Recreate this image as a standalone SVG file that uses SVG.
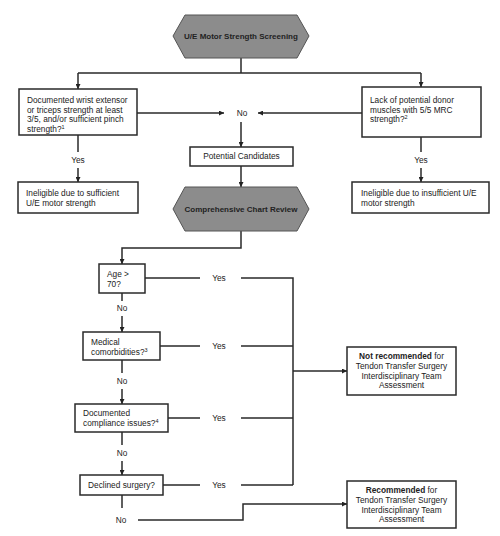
<svg xmlns="http://www.w3.org/2000/svg" width="500" height="536" viewBox="0 0 500 536">
<defs>
<style>
.t{font-family:"Liberation Sans",Arial,sans-serif;font-size:8.3px;fill:#222}
.b{font-weight:bold}
.m{text-anchor:middle}
.box{fill:#fff;stroke:#2a2a2a;stroke-width:1.5}
.hex{fill:#8c8c8c;stroke:#555;stroke-width:1}
.ln{fill:none;stroke:#2a2a2a;stroke-width:1.5}
.sup{font-size:5.5px}
</style>
<marker id="ah" viewBox="0 0 10 10" refX="10" refY="5" markerWidth="5" markerHeight="5" markerUnits="userSpaceOnUse" orient="auto">
<path d="M0,0 L10,5 L0,10 z" fill="#222"/>
</marker>
</defs>
<rect width="500" height="536" fill="#fff"/>

<g id="connectors">
<path class="ln" d="M241,58 V73 M78,73 H421"/>
<path class="ln" d="M78,73 V89" marker-end="url(#ah)"/>
<path class="ln" d="M421,73 V87" marker-end="url(#ah)"/>
<path class="ln" d="M137,113 H224" marker-end="url(#ah)"/>
<path class="ln" d="M362,113 H258" marker-end="url(#ah)"/>
<text class="t m" x="242" y="116">No</text>
<path class="ln" d="M241,122 V147" marker-end="url(#ah)"/>
<path class="ln" d="M78,135 V152"/>
<text class="t m" x="78" y="163">Yes</text>
<path class="ln" d="M78,168 V182" marker-end="url(#ah)"/>
<path class="ln" d="M421,137 V152"/>
<text class="t m" x="421" y="163">Yes</text>
<path class="ln" d="M421,168 V182" marker-end="url(#ah)"/>
<path class="ln" d="M241,166 V187" marker-end="url(#ah)"/>
<path class="ln" d="M241,231 V248 H122 V264" marker-end="url(#ah)"/>

<path class="ln" d="M145,278 H200 M241,278 H293 V485"/>
<text class="t m" x="219" y="281">Yes</text>
<path class="ln" d="M122,293 V301"/>
<text class="t m" x="122" y="311">No</text>
<path class="ln" d="M122,316 V332" marker-end="url(#ah)"/>

<path class="ln" d="M160,346 H200 M241,346 H293"/>
<text class="t m" x="219" y="349">Yes</text>
<path class="ln" d="M122,360 V373"/>
<text class="t m" x="122" y="384">No</text>
<path class="ln" d="M122,389 V404" marker-end="url(#ah)"/>

<path class="ln" d="M168,418 H200 M241,418 H293"/>
<text class="t m" x="219" y="421">Yes</text>
<path class="ln" d="M122,432 V445"/>
<text class="t m" x="122" y="456">No</text>
<path class="ln" d="M122,461 V475" marker-end="url(#ah)"/>

<path class="ln" d="M163,485 H200 M241,485 H293"/>
<text class="t m" x="219" y="488">Yes</text>
<path class="ln" d="M293,371 H347" marker-end="url(#ah)"/>
<path class="ln" d="M122,495 V508"/>
<text class="t m" x="121" y="523">No</text>
<path class="ln" d="M138,520 H243 V504 H347" marker-end="url(#ah)"/>
</g>

<g id="screening">
<polygon class="hex" points="173,36 185,15 297,15 309,36 297,58 185,58"/>
<text class="t b m" x="241" y="39" style="font-size:8px">U/E Motor Strength Screening</text>
</g>

<g id="q-sufficient">
<rect class="box" x="19" y="89" width="118" height="46"/>
<text class="t" x="27" y="103">Documented wrist extensor</text>
<text class="t" x="27" y="112.5">or triceps strength at least</text>
<text class="t" x="27" y="122">3/5, and/or sufficient pinch</text>
<text class="t" x="27" y="131.5">strength?<tspan class="sup" dy="-3">1</tspan></text>
</g>

<g id="q-donor">
<rect class="box" x="362" y="87" width="119" height="50"/>
<text class="t" x="370" y="103">Lack of potential donor</text>
<text class="t" x="370" y="112.5">muscles with 5/5 MRC</text>
<text class="t" x="370" y="122">strength?<tspan class="sup" dy="-3">2</tspan></text>
</g>

<g id="potential">
<rect class="box" x="190" y="147" width="103" height="19"/>
<text class="t m" x="241.5" y="159">Potential Candidates</text>
</g>

<g id="inelig-sufficient">
<rect class="box" x="18" y="182" width="120" height="31"/>
<text class="t" x="26" y="196">Ineligible due to sufficient</text>
<text class="t" x="26" y="205.5">U/E motor strength</text>
</g>

<g id="inelig-insufficient">
<rect class="box" x="352" y="182" width="137" height="31"/>
<text class="t" x="361" y="196">Ineligible due to insufficient U/E</text>
<text class="t" x="361" y="205.5">motor strength</text>
</g>

<g id="chart-review">
<polygon class="hex" points="173,209 185,187 297,187 309,209 297,231 185,231"/>
<text class="t b m" x="241" y="212" style="font-size:8px">Comprehensive Chart Review</text>
</g>

<g id="q-age">
<rect class="box" x="99" y="264" width="46" height="29"/>
<text class="t" x="107" y="277">Age &gt;</text>
<text class="t" x="107" y="287">70?</text>
</g>

<g id="q-medical">
<rect class="box" x="83" y="332" width="77" height="28"/>
<text class="t" x="91" y="345">Medical</text>
<text class="t" x="91" y="354.5">comorbidities?<tspan class="sup" dy="-3">3</tspan></text>
</g>

<g id="q-compliance">
<rect class="box" x="75" y="404" width="93" height="28"/>
<text class="t" x="83" y="416">Documented</text>
<text class="t" x="83" y="426">compliance issues?<tspan class="sup" dy="-3">4</tspan></text>
</g>

<g id="q-declined">
<rect class="box" x="80" y="475" width="83" height="20"/>
<text class="t m" x="121.5" y="488">Declined surgery?</text>
</g>

<g id="not-recommended">
<rect class="box" x="347" y="347" width="109" height="48"/>
<text class="t m" x="401.5" y="359"><tspan class="b">Not recommended</tspan> for</text>
<text class="t m" x="401.5" y="369">Tendon Transfer Surgery</text>
<text class="t m" x="401.5" y="378.5">Interdisciplinary Team</text>
<text class="t m" x="401.5" y="388">Assessment</text>
</g>

<g id="recommended">
<rect class="box" x="347" y="481" width="109" height="47"/>
<text class="t m" x="401.5" y="493"><tspan class="b">Recommended</tspan> for</text>
<text class="t m" x="401.5" y="503">Tendon Transfer Surgery</text>
<text class="t m" x="401.5" y="512.5">Interdisciplinary Team</text>
<text class="t m" x="401.5" y="522">Assessment</text>
</g>
</svg>
